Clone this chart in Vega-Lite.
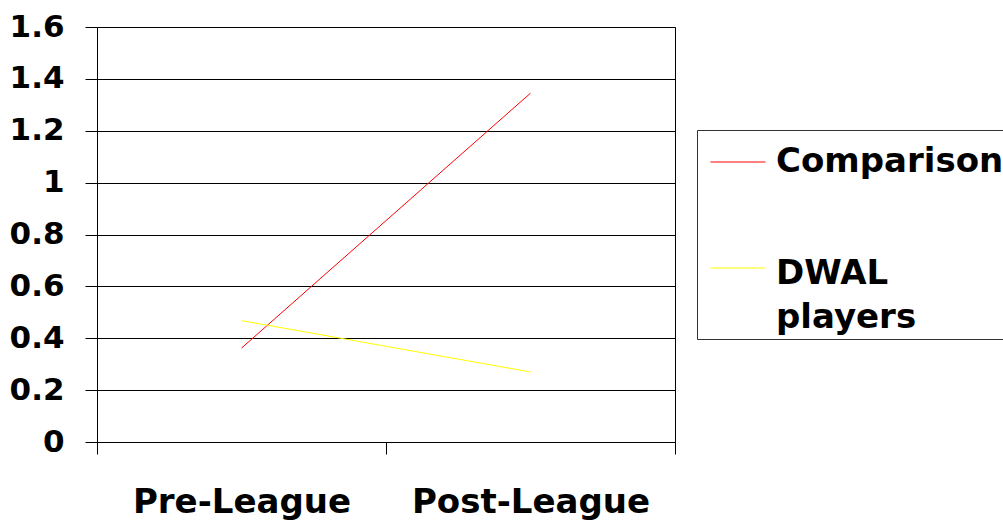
{
  "$schema": "https://vega.github.io/schema/vega-lite/v6.json",
  "width": 578,
  "height": 415,
  "autosize": "none",
  "padding": {"left": 97, "top": 27, "right": 328, "bottom": 80},
  "background": "white",
  "data": {"values": [
    {"period": "Pre-League", "group": "Comparison", "value": 0.362},
    {"period": "Post-League", "group": "Comparison", "value": 1.345},
    {"period": "Pre-League", "group": "DWAL players", "value": 0.468},
    {"period": "Post-League", "group": "DWAL players", "value": 0.27}
  ]},
  "mark": {"type": "line", "strokeWidth": 1},
  "encoding": {
    "x": {
      "field": "period", "type": "nominal", "sort": ["Pre-League", "Post-League"],
      "scale": {"type": "band", "paddingInner": 0, "paddingOuter": 0},
      "axis": {
        "title": null, "tickBand": "extent", "labelAngle": 0, "grid": false,
        "domain": true, "domainColor": "black", "tickColor": "black", "tickSize": 12,
        "labelFont": "DejaVu Sans", "labelFontWeight": "bold", "labelFontSize": 34,
        "labelColor": "black", "labelPadding": 31, "labelLimit": 400
      }
    },
    "y": {
      "field": "value", "type": "quantitative",
      "scale": {"domain": [0, 1.6], "nice": false},
      "axis": {
        "title": null, "values": [0, 0.2, 0.4, 0.6, 0.8, 1, 1.2, 1.4, 1.6], "format": "~g",
        "grid": true, "gridColor": "black", "gridOpacity": 1, "gridWidth": 1,
        "domain": true, "domainColor": "black", "tickColor": "black", "tickSize": 12,
        "labelFont": "DejaVu Sans", "labelFontWeight": "bold", "labelFontSize": 31,
        "labelColor": "black", "labelPadding": 21
      }
    },
    "color": {
      "field": "group", "type": "nominal",
      "scale": {"domain": ["Comparison", "DWAL players"], "range": ["#ff0000", "#ffff00"]},
      "legend": {
        "orient": "none", "legendX": 600, "legendY": 103, "title": null,
        "strokeColor": "#333333", "fillColor": "white", "padding": 4,
        "symbolType": "stroke", "symbolSize": 3025, "symbolStrokeWidth": 1, "symbolOffset": 9,
        "labelFont": "DejaVu Sans", "labelFontWeight": "bold", "labelFontSize": 34,
        "labelColor": "black", "labelLimit": 400, "labelOffset": 10, "rowPadding": 61,
        "labelBaseline": "middle",
        "labelExpr": "datum.label == 'DWAL players' ? ['DWAL', 'players'] : datum.label",
        "encode": {
          "labels": {
            "update": {
              "lineHeight": {"value": 44},
              "dy": {"signal": "datum.value == 'DWAL players' ? 6 : 0"}
            }
          }
        }
      }
    }
  },
  "config": {"view": {"stroke": "black", "strokeWidth": 1}}
}
